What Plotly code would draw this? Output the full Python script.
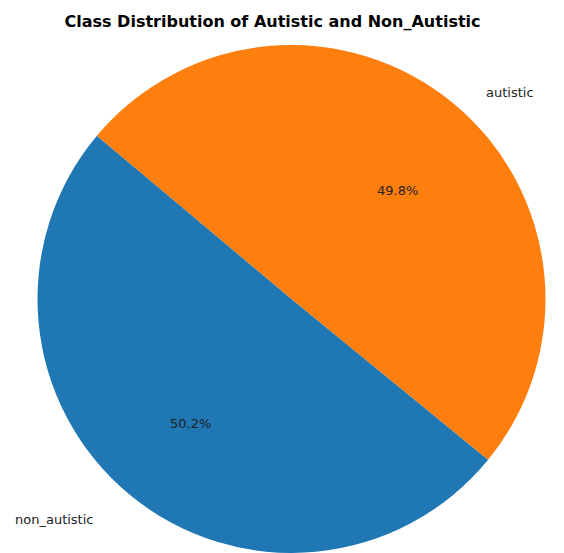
import plotly.graph_objects as go

labels = ["non_autistic", "autistic"]
values = [50.2, 49.8]
colors = ["#1f77b4", "#ff7f0e"]
title = "Class Distribution of Autistic and Non_Autistic"
start_angle = 140  # degrees, counterclockwise from 3 o'clock (matplotlib style)

W, H = 564, 553
cx, cy, r = 291.5, 299.0, 254.0

def px(x):
    return x / W

def py(y):
    return 1 - y / H

total = sum(values)
pcts = [f"{v / total * 100:.1f}%" for v in values]
end_first = start_angle + 360 * values[0] / total

fig = go.Figure(go.Pie(
    labels=labels,
    values=values,
    marker=dict(colors=colors, line=dict(width=0)),
    sort=False,
    direction="clockwise",
    rotation=90 - end_first,
    textinfo="none",
    hoverinfo="label+percent",
    showlegend=False,
    domain=dict(x=[px(cx - r), px(cx + r)], y=[max(0, py(cy + r)), py(cy - r)]),
))

font = dict(family="DejaVu Sans", size=13, color="#222222")
ann = [
    dict(text=labels[1], x=px(484), y=py(92), xanchor="left", yanchor="middle"),
    dict(text=labels[0], x=px(95), y=py(519), xanchor="right", yanchor="middle"),
    dict(text=pcts[1], x=px(397), y=py(190), xanchor="center", yanchor="middle"),
    dict(text=pcts[0], x=px(190), y=py(423), xanchor="center", yanchor="middle"),
]
for a in ann:
    a.update(xref="paper", yref="paper", showarrow=False, font=font)

fig.update_layout(
    width=W, height=H,
    margin=dict(l=0, r=0, t=0, b=0),
    paper_bgcolor="white",
    title=dict(text=f"<b>{title}</b>", x=px(272.5), xanchor="center", y=py(21), yanchor="middle",
               font=dict(family="DejaVu Sans", size=16, color="#000000")),
    annotations=ann,
)

fig.write_html("out.html")
